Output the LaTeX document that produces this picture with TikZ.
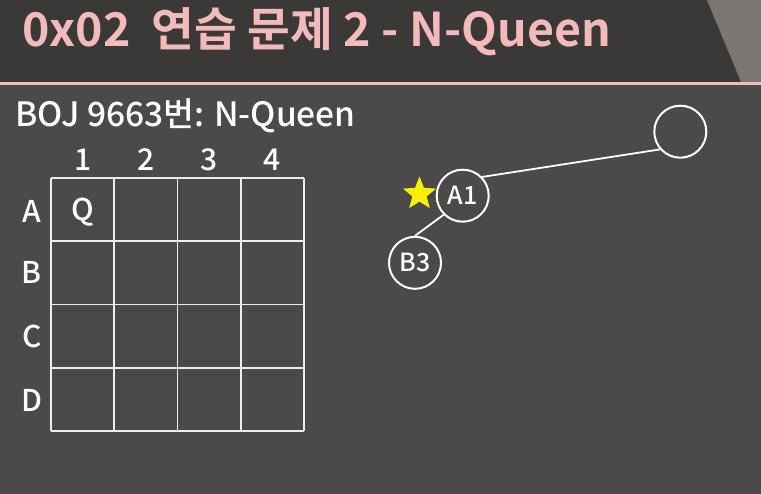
\documentclass[tikz,border=0pt]{standalone}
\usepackage{fontspec}
\setmainfont{Noto Sans CJK KR}[UprightFont=* Medium, BoldFont=* Bold]
\usetikzlibrary{shapes.geometric}
\definecolor{bg}{HTML}{4B4949}
\definecolor{hdr}{HTML}{3B3838}
\definecolor{deco}{HTML}{7A7673}
\definecolor{pinkc}{HTML}{F2BABA}
\definecolor{linec}{HTML}{EDEDED}
\definecolor{staryellow}{HTML}{F7F000}
\tikzset{
  txt/.style={inner sep=0pt, text=white},
  gridline/.style={draw=linec, line width=1.8pt},
  treenode/.style={circle, draw=white, line width=2pt, minimum size=52pt, inner sep=0pt, text=white, font=\fontsize{25}{25}\selectfont},
  edge/.style={draw=white, line width=1.8pt},
  lbl/.style={txt, font=\fontsize{30}{30}\selectfont},
}
\begin{document}
\begin{tikzpicture}[x=1pt,y=-1pt]
\useasboundingbox (0,0) rectangle (761,494);
\fill[bg] (0,0) rectangle (761,494);
\fill[hdr] (0,0) rectangle (761,83);
\fill[deco] (707,0) -- (741,82) -- (761,82) -- (761,0) -- cycle;
\fill[pinkc] (0,82) rectangle (761,85.5);
\node[anchor=base west, inner sep=0pt, text=pinkc, font=\fontsize{46.5}{46.5}\bfseries] (title) at (22,47) {0x02\ \ 연습 문제 2 - N-Queen};
\node[anchor=base west, txt, font=\fontsize{33.5}{33.5}\selectfont] (sub) at (15,127) {BOJ 9663번: N-Queen};
% grid
\foreach \x in {51,114.25,177.5,240.75,304} \draw[gridline] (\x,178) -- (\x,431);
\foreach \y in {178,241.25,304.5,367.75,431} \draw[gridline] (51,\y) -- (304,\y);
% column labels
\node[lbl] (c1) at (82.6,160) {1};
\node[lbl] (c2) at (145.9,160) {2};
\node[lbl] (c3) at (209.1,160) {3};
\node[lbl] (c4) at (272.4,160) {4};
% row labels
\node[lbl] (rA) at (32,211) {A};
\node[lbl] (rB) at (32,272) {B};
\node[lbl] (rC) at (32,336) {C};
\node[lbl] (rD) at (32,400) {D};
\node[lbl] (q) at (82.6,212) {Q};
% tree
\node[treenode] (R) at (680.3,131.7) {};
\node[treenode] (A1) at (462.7,195.7) {A1};
\node[treenode] (B3) at (415,262.8) {B3};
\node[star, star points=5, star point ratio=2.3, fill=staryellow, minimum size=35pt, inner sep=0pt] (star) at (419.5,194) {};
\draw[edge] (A1.44) -- (R.221);
\draw[edge] (A1.225) -- (B3.90);
\end{tikzpicture}
\end{document}
